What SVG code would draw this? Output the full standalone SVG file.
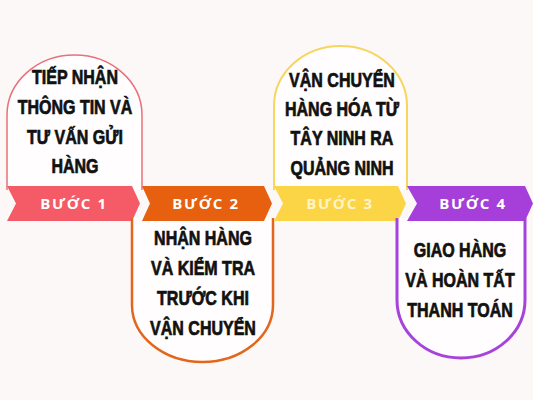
<svg xmlns="http://www.w3.org/2000/svg" width="533" height="400" viewBox="0 0 533 400">
<style>
.card{fill:#fffdfd;}
.t{font-family:"Liberation Sans",Arial,sans-serif;font-weight:bold;font-size:20px;fill:#111;stroke:#111;stroke-width:0.7px;text-anchor:middle;}
.b{font-family:"Open Sans","Liberation Sans",sans-serif;font-weight:bold;font-size:15px;letter-spacing:1.6px;fill:#fff;text-anchor:middle;}
</style>
<rect width="533" height="400" fill="#fcf8f7"/>
<g id="step1">
<path class="card" d="M7,190 V115 A67.5,60 0 0 1 142,115 V190" stroke="#e9707a" stroke-width="1.5"/>
<text class="t" transform="translate(75,84) scale(0.8,1)">TIẾP NHẬN</text>
<text class="t" transform="translate(75,114) scale(0.8,1)">THÔNG TIN VÀ</text>
<text class="t" transform="translate(75,144) scale(0.8,1)">TƯ VẤN GỬI</text>
<text class="t" transform="translate(75,173) scale(0.8,1)">HÀNG</text>
<polygon points="7,186 132,186 140,203.5 132,221 7,221 16,203.5" fill="#f45b66"/>
<text class="b" x="74" y="209">BƯỚC 1</text>
</g>
<g id="step2">
<path class="card" d="M132,218 V305 A70.5,57 0 0 0 273,305 V218" stroke="#e2661c" stroke-width="2.5"/>
<text class="t" transform="translate(203,245) scale(0.8,1)">NHẬN HÀNG</text>
<text class="t" transform="translate(203,275) scale(0.8,1)">VÀ KIỂM TRA</text>
<text class="t" transform="translate(203,305) scale(0.8,1)">TRƯỚC KHI</text>
<text class="t" transform="translate(203,335) scale(0.8,1)">VẬN CHUYỂN</text>
<polygon points="142,186 264,186 272,203.5 264,221 142,221 150,203.5" fill="#e6600f"/>
<text class="b" x="206" y="209">BƯỚC 2</text>
</g>
<g id="step3">
<path class="card" d="M274,190 V106 A66.5,60 0 0 1 407,106 V190" stroke="#f6d65e" stroke-width="2"/>
<text class="t" transform="translate(342,87) scale(0.8,1)">VẬN CHUYỂN</text>
<text class="t" transform="translate(342,116) scale(0.8,1)">HÀNG HÓA TỪ</text>
<text class="t" transform="translate(342,145) scale(0.8,1)">TÂY NINH RA</text>
<text class="t" transform="translate(342,175) scale(0.8,1)">QUẢNG NINH</text>
<polygon points="274,186 398,186 406,203.5 398,221 274,221 283,203.5" fill="#fcd546"/>
<text class="b" x="340" y="209" style="fill:#fff3c8">BƯỚC 3</text>
</g>
<g id="step4">
<path class="card" d="M397,218 V300 A64,58 0 0 0 525,300 V218" stroke="#a643da" stroke-width="3"/>
<text class="t" transform="translate(460,257) scale(0.8,1)">GIAO HÀNG</text>
<text class="t" transform="translate(460,287) scale(0.8,1)">VÀ HOÀN TẤT</text>
<text class="t" transform="translate(460,317) scale(0.8,1)">THANH TOÁN</text>
<polygon points="407,186 525,186 533,203.5 525,221 407,221 417,203.5" fill="#a63fda"/>
<text class="b" x="473" y="209">BƯỚC 4</text>
</g>
<g id="connectors"/>
</svg>
